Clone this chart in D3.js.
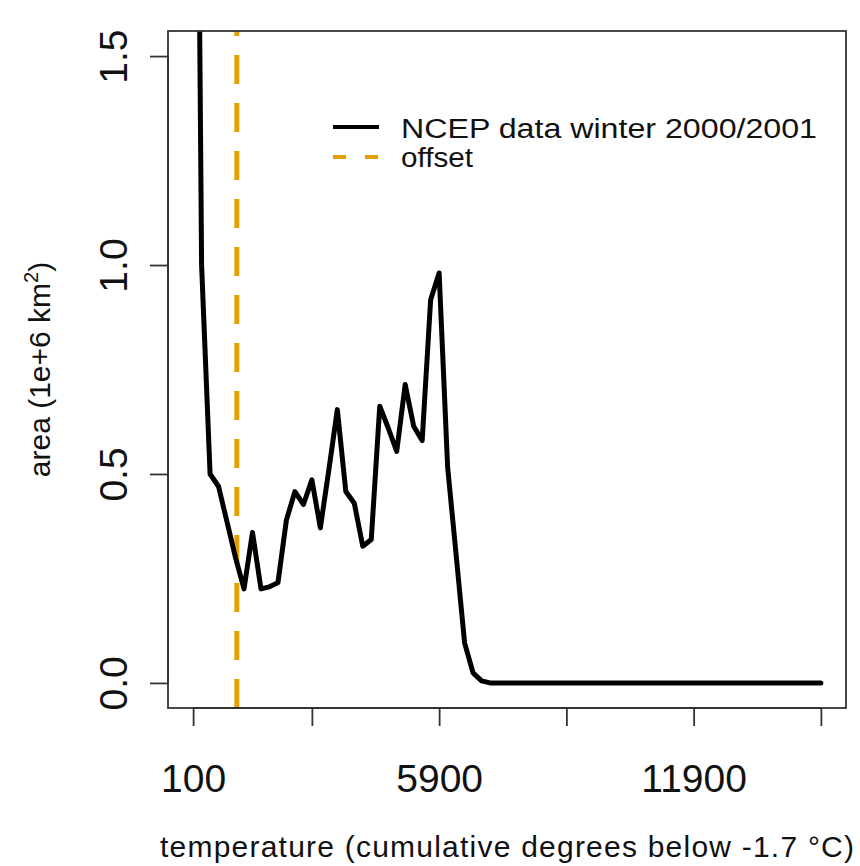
<!DOCTYPE html>
<html>
<head>
<meta charset="utf-8">
<script src="https://cdn.jsdelivr.net/npm/d3@7"></script>
<style>
  body { margin: 0; background: #fff; }
  text { font-family: "Liberation Sans", Arial, Helvetica, sans-serif; fill: #111; }
</style>
</head>
<body>
<svg id="chart" width="860" height="866"></svg>
<script>
// data (temperature grid every 200 degree-days)
const temps = [100, 300, 500, 700, 900, 1100, 1300, 1500, 1700, 1900,
  2100, 2300, 2500, 2700, 2900, 3100, 3300, 3500, 3700, 3900,
  4100, 4300, 4500, 4700, 4900, 5100, 5300, 5500, 5700, 5900,
  6100, 6300, 6500, 6700, 6900, 7100, 7300, 7500, 7700, 7900,
  8100, 8300, 8500, 8700, 8900, 9100, 9300, 9500, 9700, 9900,
  10100, 10300, 10500, 10700, 10900, 11100, 11300, 11500, 11700, 11900,
  12100, 12300, 12500, 12700, 12900, 13100, 13300, 13500, 13700, 13900,
  14100, 14300, 14500, 14700, 14900];
const area = [3.5, 1.0, 0.50, 0.47, 0.385, 0.30, 0.225, 0.36, 0.225, 0.23,
  0.24, 0.39, 0.458, 0.427, 0.486, 0.371, 0.51, 0.654, 0.458, 0.43,
  0.327, 0.343, 0.662, 0.61, 0.554, 0.714, 0.614, 0.58, 0.917, 0.981,
  0.517, 0.307, 0.096, 0.024, 0.005, 0, 0, 0, 0, 0,
  0, 0, 0, 0, 0, 0, 0, 0, 0, 0,
  0, 0, 0, 0, 0, 0, 0, 0, 0, 0,
  0, 0, 0, 0, 0, 0, 0, 0, 0, 0,
  0, 0, 0, 0, 0];
const offset = 1130;

const xTicks = [100, 2900, 5900, 8900, 11900, 14900];
const xTickLabels = ["100", "", "5900", "", "11900", ""];
const yTicks = [0, 0.5, 1.0, 1.5];
const yTickLabels = ["0.0", "0.5", "1.0", "1.5"];
const legendLabels = ["NCEP data winter 2000/2001", "offset"];

const plot = { left: 168, right: 846, top: 31, bottom: 708 };
const orange = "#E69F00";

var svg = d3.select("#chart");

// R style 4% padding around the data range
const x = d3.scaleLinear()
  .domain([-492, 15492])
  .range([plot.left, plot.right]);
const y = d3.scaleLinear()
  .domain([-0.06, 1.56])
  .range([plot.bottom, plot.top]);

svg.append("clipPath").attr("id", "clip")
  .append("rect")
  .attr("x", plot.left).attr("y", plot.top)
  .attr("width", plot.right - plot.left).attr("height", plot.bottom - plot.top);

// offset line (dashes counted from the bottom like abline)
svg.append("line")
  .attr("x1", x(offset)).attr("x2", x(offset))
  .attr("y1", plot.bottom).attr("y2", plot.top)
  .attr("stroke", orange)
  .attr("stroke-width", 5)
  .attr("stroke-dasharray", "29,19");

// the data line
const line = d3.line()
  .x((d, i) => x(temps[i]))
  .y(d => y(d));

svg.append("path")
  .datum(area)
  .attr("clip-path", "url(#clip)")
  .attr("d", line)
  .attr("fill", "none")
  .attr("stroke", "#000")
  .attr("stroke-width", 5)
  .attr("stroke-linejoin", "round")
  .attr("stroke-linecap", "round");

// box
svg.append("rect")
  .attr("x", plot.left).attr("y", plot.top)
  .attr("width", plot.right - plot.left).attr("height", plot.bottom - plot.top)
  .attr("fill", "none")
  .attr("stroke", "#333")
  .attr("stroke-width", 1.8);

// x axis
var gx = svg.append("g")
  .attr("transform", `translate(0,${plot.bottom})`)
  .call(d3.axisBottom(x)
    .tickValues(xTicks)
    .tickSize(18)
    .tickFormat((d, i) => xTickLabels[i]));
gx.select(".domain").attr("stroke", "#333").attr("stroke-width", 1.8)
  .attr("d", `M${x(xTicks[0])},0H${x(xTicks[xTicks.length - 1])}`);
gx.selectAll(".tick line").attr("stroke", "#333").attr("stroke-width", 1.8);
gx.selectAll(".tick text")
  .attr("y", 84).attr("dy", 0)
  .style("font-size", "39px")
  .style("font-family", "Liberation Sans, Arial, sans-serif")
  .attr("fill", "#111");

// y axis, labels parallel to the axis
var gy = svg.append("g")
  .attr("transform", `translate(${plot.left},0)`)
  .call(d3.axisLeft(y)
    .tickValues(yTicks)
    .tickSize(18)
    .tickFormat((d, i) => yTickLabels[i]));
gy.select(".domain").attr("stroke", "#333").attr("stroke-width", 1.8)
  .attr("d", `M0,${y(yTicks[0])}V${y(yTicks[yTicks.length - 1])}`);
gy.selectAll(".tick line").attr("stroke", "#333").attr("stroke-width", 1.8);
gy.selectAll(".tick text")
  .attr("x", null).attr("dy", 0)
  .attr("text-anchor", "middle")
  .attr("transform", "translate(-41,0) rotate(-90)")
  .style("font-size", "39px")
  .style("font-family", "Liberation Sans, Arial, sans-serif")
  .attr("fill", "#111");

// axis titles
svg.append("text")
  .attr("x", (plot.left + plot.right) / 2)
  .attr("y", 857)
  .attr("text-anchor", "middle")
  .attr("textLength", 694)
  .attr("lengthAdjust", "spacing")
  .style("font-size", "30px")
  .text("temperature (cumulative degrees below -1.7 °C)");

var yTitle = svg.append("text")
  .attr("transform", `translate(50,${(plot.top + plot.bottom) / 2}) rotate(-90)`)
  .attr("text-anchor", "middle")
  .style("font-size", "30px");
yTitle.append("tspan").text("area (1e+6 km");
yTitle.append("tspan").text("2").style("font-size", "20px").attr("dy", -12);
yTitle.append("tspan").text(")").attr("dy", 12);

// legend
const legendRows = [
  { label: legendLabels[0], ly: 127, ty: 138, len: 416, stroke: "#000", dash: null },
  { label: legendLabels[1], ly: 157, ty: 167, len: 72, stroke: orange, dash: "13,19" }
];
var legend = svg.append("g");
legend.selectAll("line")
  .data(legendRows)
  .join("line")
  .attr("x1", 333).attr("x2", 379)
  .attr("y1", d => d.ly).attr("y2", d => d.ly)
  .attr("stroke", d => d.stroke)
  .attr("stroke-width", 4)
  .attr("stroke-dasharray", d => d.dash);
legend.selectAll("text")
  .data(legendRows)
  .join("text")
  .attr("x", 401)
  .attr("y", d => d.ty)
  .attr("textLength", d => d.len)
  .attr("lengthAdjust", "spacingAndGlyphs")
  .style("font-size", "27px")
  .text(d => d.label);
</script>
</body>
</html>
